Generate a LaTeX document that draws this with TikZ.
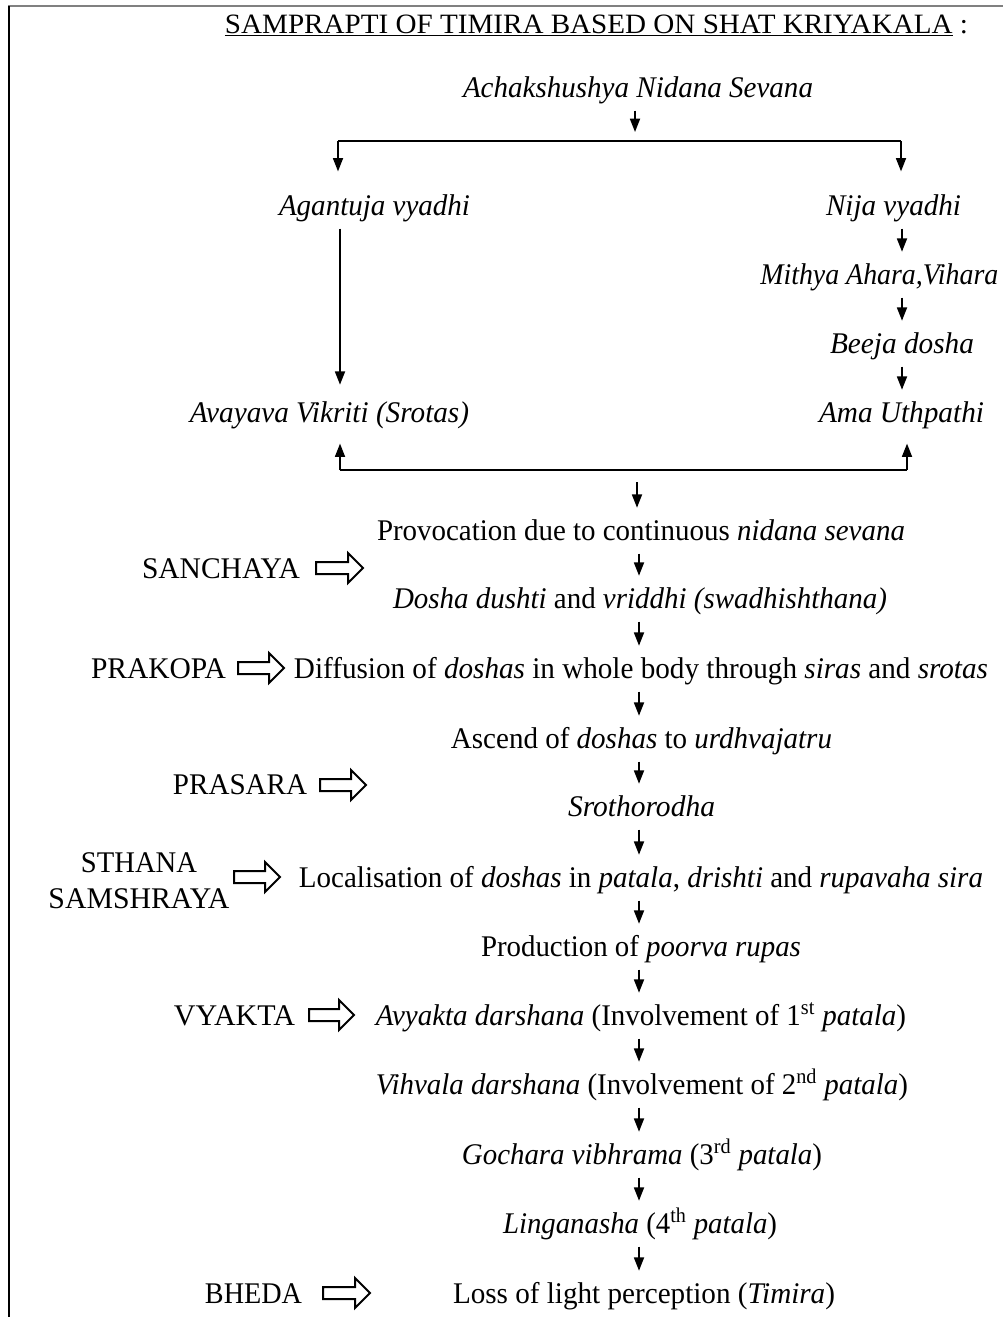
\documentclass[tikz,border=0pt]{standalone}
\usepackage{fontspec}
\setmainfont{Liberation Serif}
\usetikzlibrary{arrows.meta}
\newlength\fwlen
\newcommand\fw[2]{\fwlen=\dimexpr0.75pt*#1\relax\resizebox{\fwlen}{\height}{#2}}
\newcommand\hollowarr[3]{%
  \draw[harr] (#1,#3-6) -- (#2-15,#3-6) -- (#2-15,#3-15) -- (#2,#3) -- (#2-15,#3+15) -- (#2-15,#3+6) -- (#1,#3+6) -- cycle;}
\begin{document}
\begin{tikzpicture}[x=0.75pt,y=-0.75pt,
  lbl/.style={anchor=base,inner sep=0,font=\fontsize{22.5}{27}\selectfont},
  flow/.style={lbl,text height=24pt,text depth=10pt},
  arr/.style={line width=1.3pt,-{Triangle[length=10pt,width=7.5pt]}},
  bar/.style={line width=1.5pt},
  harr/.style={line width=1.5pt,line join=miter}]
\clip (0,0) rectangle (1003,1317);
\fill[white] (0,0) rectangle (1003,1317);
\draw[line width=1.5pt,gray] (8,6) -- (1003,6);
\draw[line width=1.5pt] (9,6) -- (9,1317);

% title
\node[lbl,font=\fontsize{21}{24}\selectfont] (title) at (596.5,33)
  {\fw{743}{\underline{SAMPRAPTI OF TIMIRA BASED ON SHAT KRIYAKALA} :}};

% upper part
\node[flow] (ach) at (638,97) {\fw{350}{\itshape Achakshushya Nidana Sevana}};
\node[flow] (aga) at (374.5,215) {\fw{191}{\itshape Agantuja vyadhi}};
\node[flow] (nija) at (893.5,215) {\fw{135}{\itshape Nija vyadhi}};
\node[flow,anchor=base west] (mith) at (760,284) {\fw{238}{\itshape Mithya Ahara,Vihara}};
\node[flow] (beeja) at (902,353) {\fw{144}{\itshape Beeja dosha}};
\node[flow] (ama) at (901.5,422) {\fw{165}{\itshape Ama Uthpathi}};
\node[flow] (avay) at (329.5,422) {\fw{279}{\itshape Avayava Vikriti (Srotas)}};

\coordinate (tb) at (635,141);
\coordinate (tbl) at (338,141);
\coordinate (tbr) at (901,141);
\coordinate (lx) at (340,0);
\coordinate (rx) at (902,0);
\coordinate (bbl) at (340,470);
\coordinate (bbr) at (907,470);
\coordinate (bc) at (637,470);
\coordinate (cx) at (639,0);

\draw[arr,shorten >=6.75pt] (ach.south -| tb) -- (tb);
\draw[bar] (tbl) -- (tbr);
\draw[arr,shorten >=8.5pt] (tbl) -- (aga.north -| tbl);
\draw[arr,shorten >=8.5pt] (tbr) -- (nija.north -| tbr);
\draw[arr,shorten >=3.75pt] (aga.south -| lx) -- (avay.north -| lx);
\draw[arr] (nija.south -| rx) -- (mith.north -| rx);
\draw[arr] (mith.south -| rx) -- (beeja.north -| rx);
\draw[arr] (beeja.south -| rx) -- (ama.north -| rx);
\draw[bar] (bbl) -- (bbr);
\draw[arr,shorten >=6pt] (bbl) -- (avay.south -| bbl);
\draw[arr,shorten >=6pt] (bbr) -- (ama.south -| bbr);

% main flow
\node[flow] (prov) at (641,540) {\fw{528}{Provocation due to continuous \textit{nidana sevana}}};
\node[flow] (dosha) at (640,608) {\fw{494}{\textit{Dosha dushti} and \textit{vriddhi (swadhishthana)}}};
\node[flow] (diff) at (641,678) {\fw{694}{Diffusion of \textit{doshas} in whole body through \textit{siras} and \textit{srotas}}};
\node[flow] (ascend) at (641.5,748) {\fw{381}{Ascend of \textit{doshas} to \textit{urdhvajatru}}};
\node[flow] (sroth) at (641.5,816) {\fw{147}{\textit{Srothorodha}}};
\node[flow] (local) at (641,887) {\fw{684}{Localisation of \textit{doshas} in \textit{patala}, \textit{drishti} and \textit{rupavaha sira}}};
\node[flow] (prod) at (641,956) {\fw{320}{Production of \textit{poorva rupas}}};
\node[flow] (avy) at (641,1025) {\fw{530}{\textit{Avyakta darshana} (Involvement of 1\textsuperscript{st} \textit{patala})}};
\node[flow] (vih) at (642,1094) {\fw{532}{\textit{Vihvala darshana} (Involvement of 2\textsuperscript{nd} \textit{patala})}};
\node[flow] (goch) at (642,1164) {\fw{360}{\textit{Gochara vibhrama} (3\textsuperscript{rd} \textit{patala})}};
\node[flow] (ling) at (640,1233) {\fw{274}{\textit{Linganasha} (4\textsuperscript{th} \textit{patala})}};
\node[flow] (loss) at (644,1303) {\fw{382}{Loss of light perception (\textit{Timira})}};

\draw[arr,shorten <=9pt] (bc) -- (prov.north -| bc);
\draw[arr] (prov.south -| cx) -- (dosha.north -| cx);
\draw[arr] (dosha.south -| cx) -- (diff.north -| cx);
\draw[arr] (diff.south -| cx) -- (ascend.north -| cx);
\draw[arr] (ascend.south -| cx) -- (sroth.north -| cx);
\draw[arr] (sroth.south -| cx) -- (local.north -| cx);
\draw[arr] (local.south -| cx) -- (prod.north -| cx);
\draw[arr] (prod.south -| cx) -- (avy.north -| cx);
\draw[arr] (avy.south -| cx) -- (vih.north -| cx);
\draw[arr] (vih.south -| cx) -- (goch.north -| cx);
\draw[arr] (goch.south -| cx) -- (ling.north -| cx);
\draw[arr] (ling.south -| cx) -- (loss.north -| cx);

% stage labels
\node[lbl] (sanchaya) at (221,578) {\fw{158}{SANCHAYA}};
\node[lbl] (prakopa) at (158.5,678) {\fw{135}{PRAKOPA}};
\node[lbl] (prasara) at (240,794) {\fw{134}{PRASARA}};
\node[lbl,align=center] (sthana) at (139,908) {\fw{116}{STHANA}\\\fw{181}{SAMSHRAYA}};
\node[lbl] (vyakta) at (234.5,1025) {\fw{121}{VYAKTA}};
\node[lbl] (bheda) at (253.5,1303) {\fw{97}{BHEDA}};

\hollowarr{316}{363}{568}
\hollowarr{238}{284}{668}
\hollowarr{320}{366}{785}
\hollowarr{234}{280}{877}
\hollowarr{309}{354}{1015}
\hollowarr{323}{370}{1293}
\end{tikzpicture}
\end{document}
